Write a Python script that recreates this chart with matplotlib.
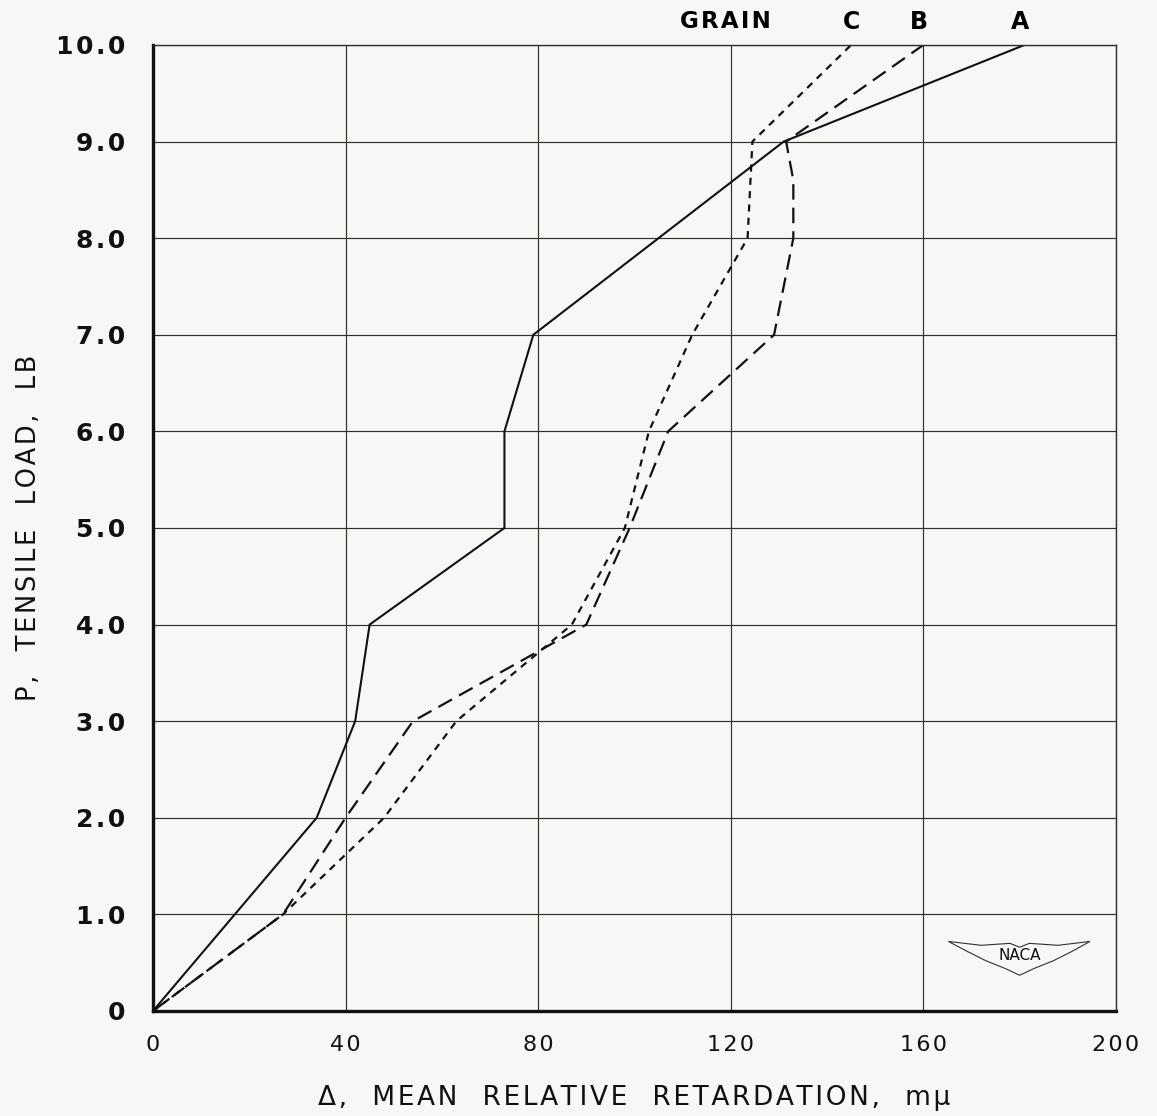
import matplotlib
matplotlib.use('Agg')
import matplotlib.pyplot as plt
from matplotlib.patches import Polygon

# Grain A (solid)
a_ret = [0, 34, 42, 45, 73, 73, 79, 131, 181]
a_load = [0, 2.0, 3.0, 4.0, 5.0, 6.0, 7.0, 9.0, 10.0]

# Grain B (long dash)
b_ret = [0, 27, 40, 54, 90, 99, 107, 129, 133, 133, 131.5, 160]
b_load = [0, 1.0, 2.0, 3.0, 4.0, 5.0, 6.0, 7.0, 8.0, 8.6, 9.0, 10.0]

# Grain C (short dash)
c_ret = [0, 27, 48, 63, 87, 98, 103, 112, 123.5, 124.5, 145]
c_load = [0, 1.0, 2.0, 3.0, 4.0, 5.0, 6.0, 7.0, 8.0, 9.0, 10.0]

x_ticks = [0, 40, 80, 120, 160, 200]
x_labels = ['0', '40', '80', '120', '160', '200']
y_ticks = [0, 1, 2, 3, 4, 5, 6, 7, 8, 9, 10]
y_labels = ['0', '1.0', '2.0', '3.0', '4.0', '5.0', '6.0', '7.0', '8.0', '9.0', '10.0']


def spaced(s, word_gap='  '):
    # lettering-guide look: hair space between letters, wide gaps between words
    words = s.split(' ')
    return word_gap.join('\u200a'.join(w) for w in words)


bg = '#f7f7f5'
ink = '#111111'
fig = plt.figure(figsize=(11.57, 11.16), dpi=100, facecolor=bg)
ax = fig.add_axes([0.1322, 0.0941, 0.8323, 0.8656], facecolor=bg)

ax.plot(a_ret, a_load, color=ink, lw=1.5)
ax.plot(b_ret, b_load, color=ink, lw=1.6, dashes=(7.0, 3.6))
ax.plot(c_ret, c_load, color=ink, lw=1.6, dashes=(3.2, 2.8))

ax.set_xlim(0, 200)
ax.set_ylim(0, 10)
ax.set_xticks(x_ticks)
ax.set_xticklabels([spaced(t) for t in x_labels], fontsize=16, color=ink)
ax.set_yticks(y_ticks)
ax.set_yticklabels([spaced(t) for t in y_labels], fontsize=18, fontweight='bold', color=ink)
ax.tick_params(axis='x', length=0, pad=17)
ax.tick_params(axis='y', length=0, pad=20)
ax.grid(True, color='#2f332a', lw=0.85)

for s in ['left', 'bottom']:
    ax.spines[s].set_linewidth(2.4)
    ax.spines[s].set_color(ink)
for s in ['top', 'right']:
    ax.spines[s].set_linewidth(1.0)
    ax.spines[s].set_color('#2f332a')

ax.set_xlabel(spaced('\u0394, MEAN RELATIVE RETARDATION, m\u03bc', '   '), fontsize=19,
              labelpad=22, color=ink)
ax.set_ylabel(spaced('P, TENSILE LOAD, LB', '   '), fontsize=18.5, labelpad=10, color=ink)

# curve labels above the frame
ax.text(119, 10.24, spaced('GRAIN'), fontsize=16.5, fontweight='bold', ha='center', va='center')
ax.text(145, 10.24, 'C', fontsize=17, fontweight='bold', ha='center', va='center')
ax.text(159, 10.24, 'B', fontsize=17, fontweight='bold', ha='center', va='center')
ax.text(180, 10.24, 'A', fontsize=17, fontweight='bold', ha='center', va='center')

# NACA wing badge
wing = [(0.826, 0.072), (0.86, 0.068), (0.89, 0.070), (0.90, 0.066), (0.91, 0.070),
        (0.94, 0.068), (0.973, 0.072), (0.955, 0.062), (0.935, 0.052), (0.915, 0.044),
        (0.90, 0.037), (0.885, 0.044), (0.865, 0.052), (0.845, 0.062)]
ax.add_patch(Polygon(wing, closed=True, transform=ax.transAxes, fill=False,
                     lw=0.8, edgecolor='#333333'))
ax.text(0.90, 0.057, 'NACA', transform=ax.transAxes, fontsize=11,
        ha='center', va='center', color=ink)

fig.savefig('out.png', dpi=100, facecolor=bg)
